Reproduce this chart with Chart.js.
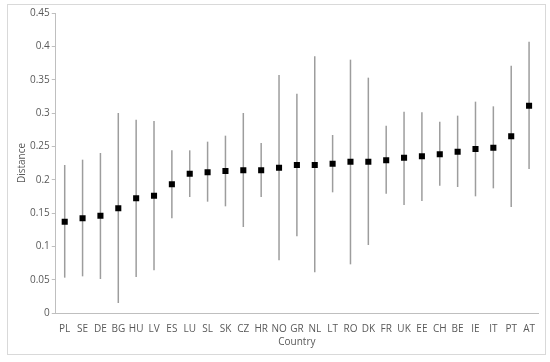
<!DOCTYPE html>
<html>
<head>
<meta charset="utf-8">
<script src="https://cdn.jsdelivr.net/npm/chart.js@4"></script>
<style>
  html, body { margin: 0; padding: 0; background: #fff; }
  #wrap { position: absolute; left: 7px; top: 4px; width: 537px; height: 349px; border: 1px solid #d9d9d9; }
</style>
</head>
<body>
<div id="wrap"><canvas id="chart"></canvas></div>
<script>
const countries = ["PL","SE","DE","BG","HU","LV","ES","LU","SL","SK","CZ","HR","NO","GR","NL","LT","RO","DK","FR","UK","EE","CH","BE","IE","IT","PT","AT"]
const means = [0.137,0.142,0.146,0.157,0.172,0.176,0.193,0.209,0.211,0.213,0.214,0.214,0.218,0.222,0.222,0.224,0.227,0.227,0.229,0.233,0.235,0.238,0.242,0.246,0.248,0.265,0.311]
const highs = [0.222,0.230,0.240,0.300,0.290,0.288,0.244,0.244,0.257,0.266,0.300,0.255,0.357,0.329,0.385,0.267,0.380,0.353,0.281,0.302,0.301,0.287,0.296,0.317,0.310,0.371,0.407]
const lows  = [0.053,0.055,0.051,0.015,0.054,0.064,0.142,0.174,0.167,0.160,0.129,0.174,0.079,0.115,0.061,0.181,0.073,0.102,0.179,0.162,0.168,0.191,0.189,0.175,0.187,0.159,0.216]
const yTicks = [0,0.05,0.1,0.15,0.2,0.25,0.3,0.35,0.4,0.45]

const textColor = "#595959"
const font = { family: "'Open Sans', 'Liberation Sans', sans-serif", size: 10 }

// draws the min-max whiskers behind the markers
const errorBars = {
  id: "errorBars",
  beforeDatasetsDraw(chart) {
    const { ctx, scales } = chart
    ctx.save()
    ctx.strokeStyle = "#9d9d9d"
    ctx.lineWidth = 1.5
    countries.forEach((c, i) => {
      const x = scales.x.getPixelForValue(i)
      ctx.beginPath()
      ctx.moveTo(x, scales.y.getPixelForValue(highs[i]))
      ctx.lineTo(x, scales.y.getPixelForValue(lows[i]))
      ctx.stroke()
    })
    ctx.restore()
  }
}

new Chart(document.getElementById("chart"), {
  type: "line",
  data: {
    labels: countries,
    datasets: [{
      data: means,
      showLine: false,
      pointStyle: "rect",
      pointRadius: 4.3,
      pointBackgroundColor: "#000",
      pointBorderWidth: 0
    }]
  },
  options: {
    responsive: true,
    maintainAspectRatio: false,
    animation: false,
    layout: { padding: { top: 4, right: 7, left: 8, bottom: 6 } },
    plugins: { legend: { display: false }, tooltip: { enabled: false } },
    scales: {
      x: {
        offset: true,
        grid: { display: false },
        border: { display: true, color: "#bfbfbf", width: 1 },
        ticks: { color: textColor, font: font, maxRotation: 0, autoSkip: false, padding: 2 },
        title: { display: true, text: "Country", color: textColor, font: font, padding: { top: -1, bottom: 0 } }
      },
      y: {
        min: 0,
        max: 0.45,
        afterBuildTicks(axis) { axis.ticks = yTicks.map(v => ({ value: v })) },
        grid: { drawOnChartArea: false, drawTicks: true, tickLength: 4, color: "#bfbfbf" },
        border: { display: true, color: "#bfbfbf", width: 1 },
        ticks: { color: textColor, font: font, padding: 2, callback: v => String(v) },
        title: { display: true, text: "Distance", color: textColor, font: font, padding: { top: 0, bottom: 0 } }
      }
    }
  },
  plugins: [errorBars]
})
</script>
</body>
</html>
